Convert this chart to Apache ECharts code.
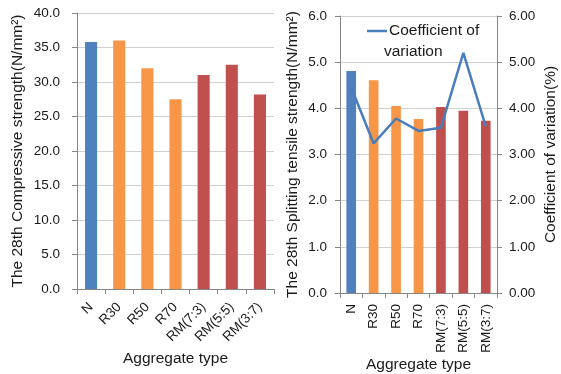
<!DOCTYPE html>
<html><head><meta charset="utf-8">
<script src="https://cdn.jsdelivr.net/npm/echarts@6/dist/echarts.min.js"></script>
<style>html,body{margin:0;padding:0;background:#fff}#c{width:561px;height:374px}</style>
</head><body><div id="c"></div>
<script>
var categories = ['N','R30','R50','R70','RM(7:3)','RM(5:5)','RM(3:7)'];
var compressive = [35.8, 36.0, 32.0, 27.5, 31.0, 32.5, 28.2];
var splitting = [4.81, 4.61, 4.05, 3.77, 4.03, 3.95, 3.73];
var coefVariation = [4.45, 3.24, 3.78, 3.51, 3.58, 5.20, 3.61];
var barColors = ['#4F81BD','#F79646','#F79646','#F79646','#C0504D','#C0504D','#C0504D'];

var FONT = 'Liberation Sans';
var txt = '#1a1a1a';
var TICKFS = 13.5, NAMEFS = 15.5;
var axisLine = {show:true, lineStyle:{color:'#868686', width:1}};
var split = {show:true, lineStyle:{color:'#d0d0d0', width:1}};
var tick = {show:true, length:5, lineStyle:{color:'#868686'}};

function colored(vals){ return vals.map(function(v,i){ return {value:v, itemStyle:{color:barColors[i]}}; }); }

var chart = echarts.init(document.getElementById('c'), null, {renderer:'canvas'});
chart.setOption({
  animation:false,
  textStyle:{fontFamily:FONT},
  grid:[
    {left:77, right:287, top:13, bottom:85, containLabel:false, outerBoundsMode:'none'},
    {left:340, right:64, top:16, bottom:81, containLabel:false, outerBoundsMode:'none'}
  ],
  legend:{
    data:['Coefficient of variation'],
    left:362, top:18, icon:'rect', itemWidth:20, itemHeight:2.5, itemGap:4,
    formatter:function(){return 'Coefficient of';},
    textStyle:{fontFamily:FONT, fontSize:NAMEFS, color:txt, padding:[0,0,0,-3]}
  },
  graphic:[{type:'text', left:384, top:44, style:{text:'variation', fontFamily:FONT, fontSize:NAMEFS, fill:txt}}],
  xAxis:[
    {type:'category', gridIndex:0, data:categories, axisLine:axisLine,
     axisTick:{show:true, length:5, lineStyle:{color:'#868686'}},
     axisLabel:{rotate:45, color:txt, fontSize:TICKFS, fontFamily:FONT, margin:16, interval:0},
     name:'Aggregate type', nameLocation:'middle', nameGap:62, nameMoveOverlap:false,
     nameTextStyle:{fontSize:NAMEFS, color:txt, fontFamily:FONT}},
    {type:'category', gridIndex:1, data:categories, axisLine:axisLine,
     axisTick:{show:true, length:5, lineStyle:{color:'#868686'}},
     axisLabel:{rotate:90, color:txt, fontSize:TICKFS, fontFamily:FONT, margin:11, interval:0},
     name:'Aggregate type', nameLocation:'middle', nameGap:64, nameMoveOverlap:false,
     nameTextStyle:{fontSize:NAMEFS, color:txt, fontFamily:FONT}}
  ],
  yAxis:[
    {type:'value', gridIndex:0, min:0, max:40, interval:5, axisLine:axisLine, axisTick:tick, splitLine:split,
     axisLabel:{color:txt, fontSize:TICKFS, fontFamily:FONT, margin:17, formatter:function(v){return v.toFixed(1);}},
     name:'The 28th Compressive strength(N/mm²)', nameLocation:'middle', nameRotate:90, nameGap:51, nameMoveOverlap:false,
     nameTextStyle:{fontSize:NAMEFS, color:txt, fontFamily:FONT}},
    {type:'value', gridIndex:1, min:0, max:6, interval:1, axisLine:axisLine, axisTick:tick, splitLine:split,
     axisLabel:{color:txt, fontSize:TICKFS, fontFamily:FONT, margin:13, formatter:function(v){return v.toFixed(1);}},
     name:'The 28th Splitting tensile strength(N/mm²)', nameLocation:'middle', nameRotate:90, nameGap:39, nameMoveOverlap:false,
     nameTextStyle:{fontSize:NAMEFS, color:txt, fontFamily:FONT}},
    {type:'value', gridIndex:1, position:'right', min:0, max:6, interval:1, axisLine:axisLine, axisTick:tick, splitLine:{show:false},
     axisLabel:{color:txt, fontSize:TICKFS, fontFamily:FONT, margin:12, formatter:function(v){return v.toFixed(2);}},
     name:'Coefficient of variation(%)', nameLocation:'middle', nameRotate:90, nameGap:46, nameMoveOverlap:false,
     nameTextStyle:{fontSize:NAMEFS, color:txt, fontFamily:FONT}}
  ],
  series:[
    {type:'bar', xAxisIndex:0, yAxisIndex:0, data:colored(compressive), barWidth:'43%'},
    {type:'bar', xAxisIndex:1, yAxisIndex:1, data:colored(splitting), barWidth:'43%'},
    {type:'line', name:'Coefficient of variation', xAxisIndex:1, yAxisIndex:2, data:coefVariation,
     symbol:'none', lineStyle:{color:'#4A7EBB', width:2.5}, itemStyle:{color:'#4A7EBB'}}
  ]
});
</script></body></html>
